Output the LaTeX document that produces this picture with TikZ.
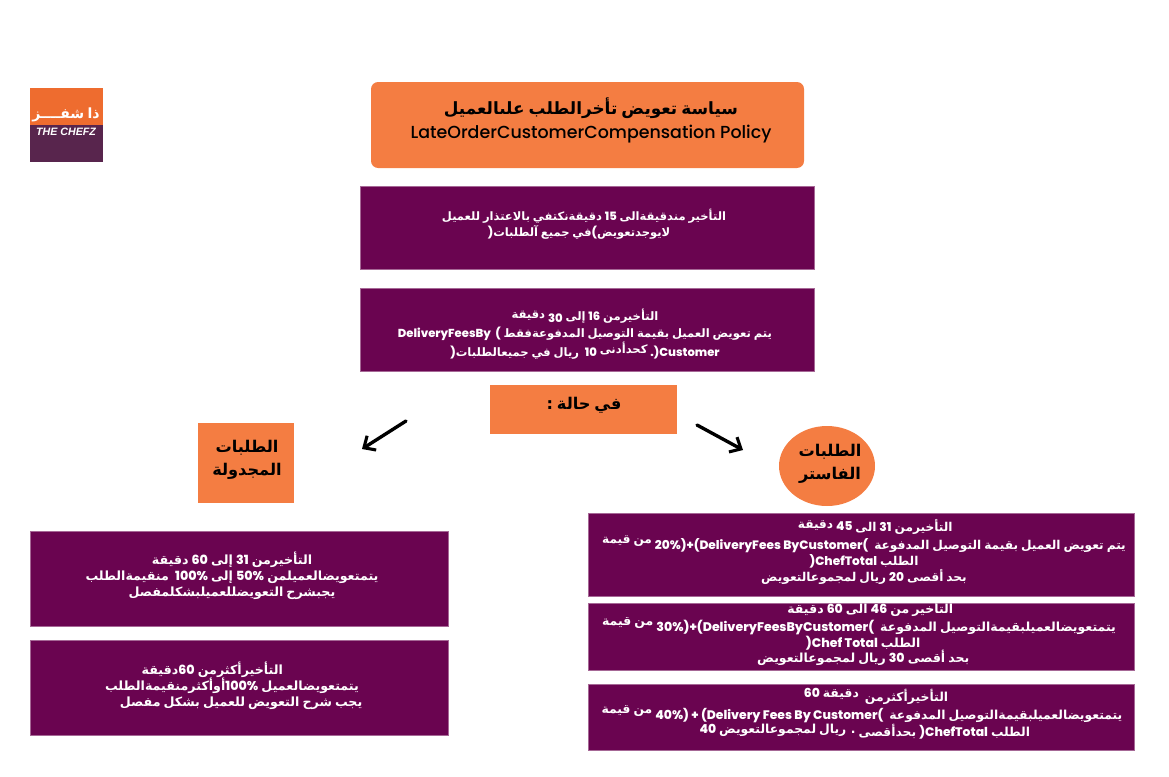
\documentclass[tikz,border=0pt]{standalone}
\usepackage{fontspec}
\usetikzlibrary{arrows.meta,positioning,shapes.geometric}
\TeXXeTstate=1
\newfontfamily\arabicfont[Script=Arabic,WordSpace=0.7]{DejaVu Sans}
\newfontfamily\latinfont{Poppins Medium}
\newfontfamily\logofont{Liberation Sans}
\definecolor{plum}{HTML}{6A0450}
\definecolor{tangerine}{HTML}{F47D42}
\definecolor{logoorange}{HTML}{EE6C2F}
\definecolor{logoplum}{HTML}{58254D}
\newcommand{\ar}[1]{\beginR{\arabicfont\bfseries #1}\endR{}}
\newcommand{\lat}[1]{\beginL{\latinfont #1}\endL{}}
\newcommand{\up}[2][2.5pt]{\raisebox{#1}{#2}}
\tikzset{
  plumbox/.style={rectangle,fill=plum,draw=plum!60,line width=.5pt,inner sep=0pt},
  orangebox/.style={rectangle,fill=tangerine,inner sep=0pt},
  plumtext/.style={text=white,align=center,inner sep=0pt,font=\fontsize{9}{11.4}\selectfont},
  headtext/.style={text=black,align=center,inner sep=0pt,font=\fontsize{11.5}{16.5}\selectfont},
  casearrow/.style={line width=2.4pt,line cap=round,-{Straight Barb[length=6.5pt,width=12pt,line width=2.2pt]}}
}
\begin{document}
\begin{tikzpicture}[x=.025cm,y=-.025cm]
\useasboundingbox (0,0) rectangle (1169,776);
% logo
\fill[logoorange] (30,88) rectangle (103,125);
\fill[logoplum] (30,125) rectangle (103,162);
\node[text=white,inner sep=0pt,font=\fontsize{10}{10}\selectfont] (logoar) at (66,115) {\ar{ذا شفــــز}};
\node[text=white,inner sep=0pt,font=\logofont\bfseries\itshape\fontsize{7.6}{8}\selectfont] (logoen) at (66,132) {THE CHEFZ};
% title
\node[orangebox,rounded corners=5pt,minimum width=433*.025cm,minimum height=86*.025cm] (policy) at (587.5,125) {};
\node[headtext] (policytxt) at (591,120.5) {\fontsize{12}{20}\selectfont\ar{سياسة تعويض تأخرالطلب علىالعميل}\\\latinfont\fontsize{12.4}{20}\selectfont LateOrderCustomerCompensation Policy};
% all orders
\node[plumbox,minimum width=454*.025cm,minimum height=83*.025cm] (upto15) at (587,227.5) {};
\node[plumtext,font=\fontsize{8.2}{11.4}\selectfont] (upto15txt) at (584,224) {\ar{التأخير مندقيقةالى \lat{15} دقيقةنكتفي بالاعتذار للعميل}\\
\hspace*{-7pt}\ar{لايوجدتعويض\lat{(}في جميع آلطلبات\lat{)}}};
\node[plumbox,minimum width=454*.025cm,minimum height=83*.025cm] (upto30) at (587,329.5) {};
\node[plumtext,font=\fontsize{8.25}{12.2}\selectfont] (upto30txt) at (585,334) {\ar{التأخيرمن \lat{16} إلى \raisebox{-1.5pt}{\lat{30}} \up[1pt]{\ar{دقيقة}}}\\
\ar{يتم تعويض العميل بقيمة التوصيل المدفوعةفقط \lat{DeliveryFeesBy\ \ (}}\\
\ar{\lat{.)Customer} \up{\ar{كحدأدنى}} \lat{10}\ \ ريال في جميعالطلبات\lat{)}}};
% cases
\node[orangebox,minimum width=187*.025cm,minimum height=49*.025cm] (incase) at (583.5,409.5) {};
\node[headtext] (incasetxt) at (584,405) {\ar{في حالة :}};
\node[orangebox,minimum width=96*.025cm,minimum height=80*.025cm] (scheduled) at (246,463) {};
\node[headtext] (scheduledtxt) at (247,460) {\ar{الطلبات}\\\ar{المجدولة}};
\node[orangebox,ellipse,minimum width=96*.025cm,minimum height=80*.025cm] (fast) at (827,466) {};
\node[headtext] (fasttxt) at (830,464) {\ar{الطلبات}\\\ar{الفاستر}};
\coordinate (leftfrom) at (406,421);
\coordinate (leftto) at (362,449);
\coordinate (rightfrom) at (697,425);
\coordinate (rightto) at (743,450);
\draw[casearrow] (leftfrom) -- (leftto);
\draw[casearrow] (rightfrom) -- (rightto);
% scheduled orders
\node[plumbox,minimum width=418*.025cm,minimum height=95*.025cm] (sched60) at (239,578.5) {};
\node[plumtext] (sched60txt) at (232,576) {\ar{التأخيرمن \lat{31} إلى \lat{60} دقيقة}\\
\ar{يتمتعويضالعميلمن \lat{50\%} إلى \lat{100\%}\ \ منقيمةالطلب}\\
\ar{يجبشرح التعويضللعميلبشكلمفصل}};
\node[plumbox,minimum width=418*.025cm,minimum height=95*.025cm] (schedmore) at (239,687.5) {};
\node[plumtext] (schedmoretxt) at (232,686) {\ar{التأخيرأكثرمن \lat{60}دقيقة}\hspace*{28pt}\\
\ar{يتمتعويضالعميل \lat{100\%}أوأكثرمنقيمةالطلب}\hspace*{7pt}\\
\hspace*{13pt}\ar{يجب شرح التعويض للعميل بشكل مفصل}};
% fast orders
\node[plumbox,minimum width=546*.025cm,minimum height=83*.025cm] (fast45) at (861,554.5) {};
\node[plumtext,font=\fontsize{8.65}{11.4}\selectfont] (fast45txt) at (864,552) {\hspace*{16pt}\ar{التأخيرمن \lat{31} الى \up[1pt]{\lat{45}} \up{\ar{دقيقة}}}\\
\ar{يتم تعويض العميل بقيمة التوصيل المدفوعة\ \ \lat{20\%)+(DeliveryFees ByCustomer(} \up[4pt]{\ar{من قيمة}}}\\
\ar{الطلب \lat{)ChefTotal}}\\
\ar{بحد أقصى \lat{20} ريال لمجموعالتعويض}};
\node[plumbox,minimum width=546*.025cm,minimum height=67*.025cm] (fast60) at (861,636.5) {};
\node[plumtext,font=\fontsize{8.9}{11.2}\selectfont] (fast60txt) at (859,633.5) {\hspace*{16pt}\ar{التأخير من \lat{46} الى \lat{60} دقيقة}\\
\ar{يتمتعويضالعميلبقيمةالتوصيل المدفوعة\ \ \lat{30\%)+(DeliveryFeesByCustomer(} \up[4pt]{\ar{من قيمة}}}\\
\hspace*{6pt}\ar{الطلب \lat{)Chef Total}}\\
\hspace*{6pt}\ar{بحد أقصى \lat{30} ريال لمجموعالتعويض}};
\node[plumbox,minimum width=546*.025cm,minimum height=66*.025cm] (fastmore) at (861,717) {};
\node[plumtext,font=\fontsize{8.8}{11.4}\selectfont] (fastmoretxt) at (862,714) {\hspace*{20pt}\ar{التأخيرأكثرمن\ \ \up{\ar{دقيقة \lat{60}}}}\\
\ar{يتمتعويضالعميلبقيمةالتوصيل المدفوعة\ \ \lat{40\%) + (Delivery Fees By Customer(} \up[4pt]{\ar{من قيمة}}}\\
\hspace*{4pt}\ar{الطلب \lat{)ChefTotal} بحدأقصى \up{\ar{. ريال لمجموعالتعويض \lat{40}}}}};
\end{tikzpicture}
\end{document}
